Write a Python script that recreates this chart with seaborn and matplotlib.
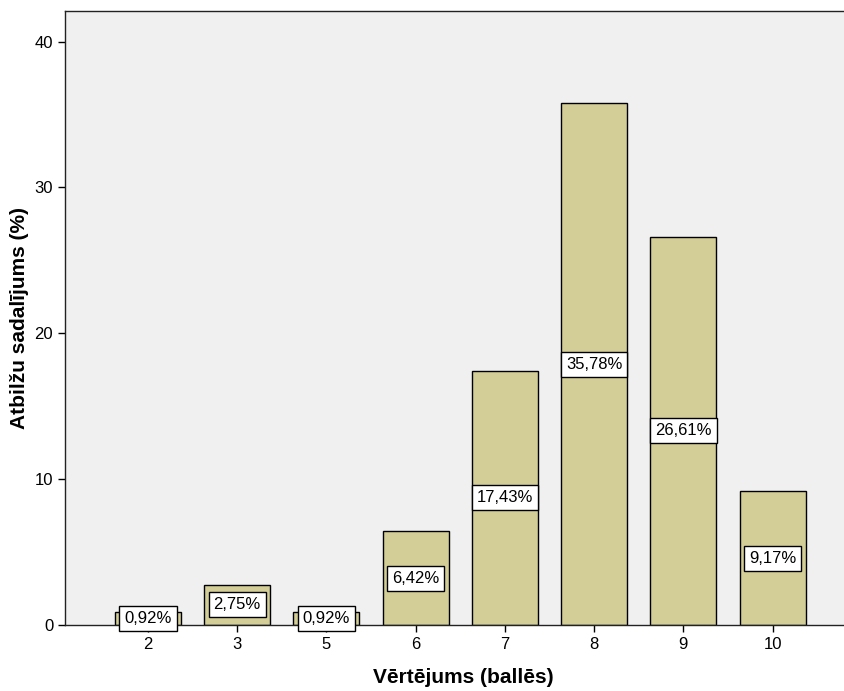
import pandas as pd
import seaborn as sns
import matplotlib.pyplot as plt

# score categories and share of answers (%)
scores = ['2', '3', '5', '6', '7', '8', '9', '10']
shares = [0.92, 2.75, 0.92, 6.42, 17.43, 35.78, 26.61, 9.17]
labels = ['0,92%', '2,75%', '0,92%', '6,42%', '17,43%', '35,78%', '26,61%', '9,17%']

df = pd.DataFrame({'score': scores, 'share': shares})

sns.set_style('ticks')
plt.rcParams['font.family'] = ['Liberation Sans', 'DejaVu Sans']
plt.rcParams['text.color'] = 'black'
plt.rcParams['axes.labelcolor'] = 'black'

fig = plt.figure(figsize=(8.45, 6.91), dpi=100)
ax = fig.add_axes([65 / 845, 1 - 625 / 691, 1 - 65 / 845 + 0.02, (625 - 11) / 691])
ax.set_facecolor('#F0F0F0')

sns.barplot(data=df, x='score', y='share', color='#D3CE97', width=0.74,
            edgecolor='black', linewidth=1, saturation=1, ax=ax)

for i, (v, lab) in enumerate(zip(shares, labels)):
    ax.text(i, v / 2, lab, ha='center', va='center', fontsize=12,
            bbox=dict(boxstyle='square,pad=0.3', fc='white', ec='black', lw=1))

ax.set_xlim(-0.93, 8.0)
ax.set_ylim(0, 42.1)
ax.set_yticks([0, 10, 20, 30, 40])
ax.tick_params(labelsize=12, length=5, width=1, colors='black')
ax.set_xlabel('Vērtējums (ballēs)', fontsize=15, fontweight='bold', labelpad=12)
ax.set_ylabel('Atbilžu sadalījums (%)', fontsize=15, fontweight='bold', labelpad=4)
for s in ax.spines.values():
    s.set_color('#222222')
    s.set_linewidth(1)

fig.savefig('out.png', dpi=100)
